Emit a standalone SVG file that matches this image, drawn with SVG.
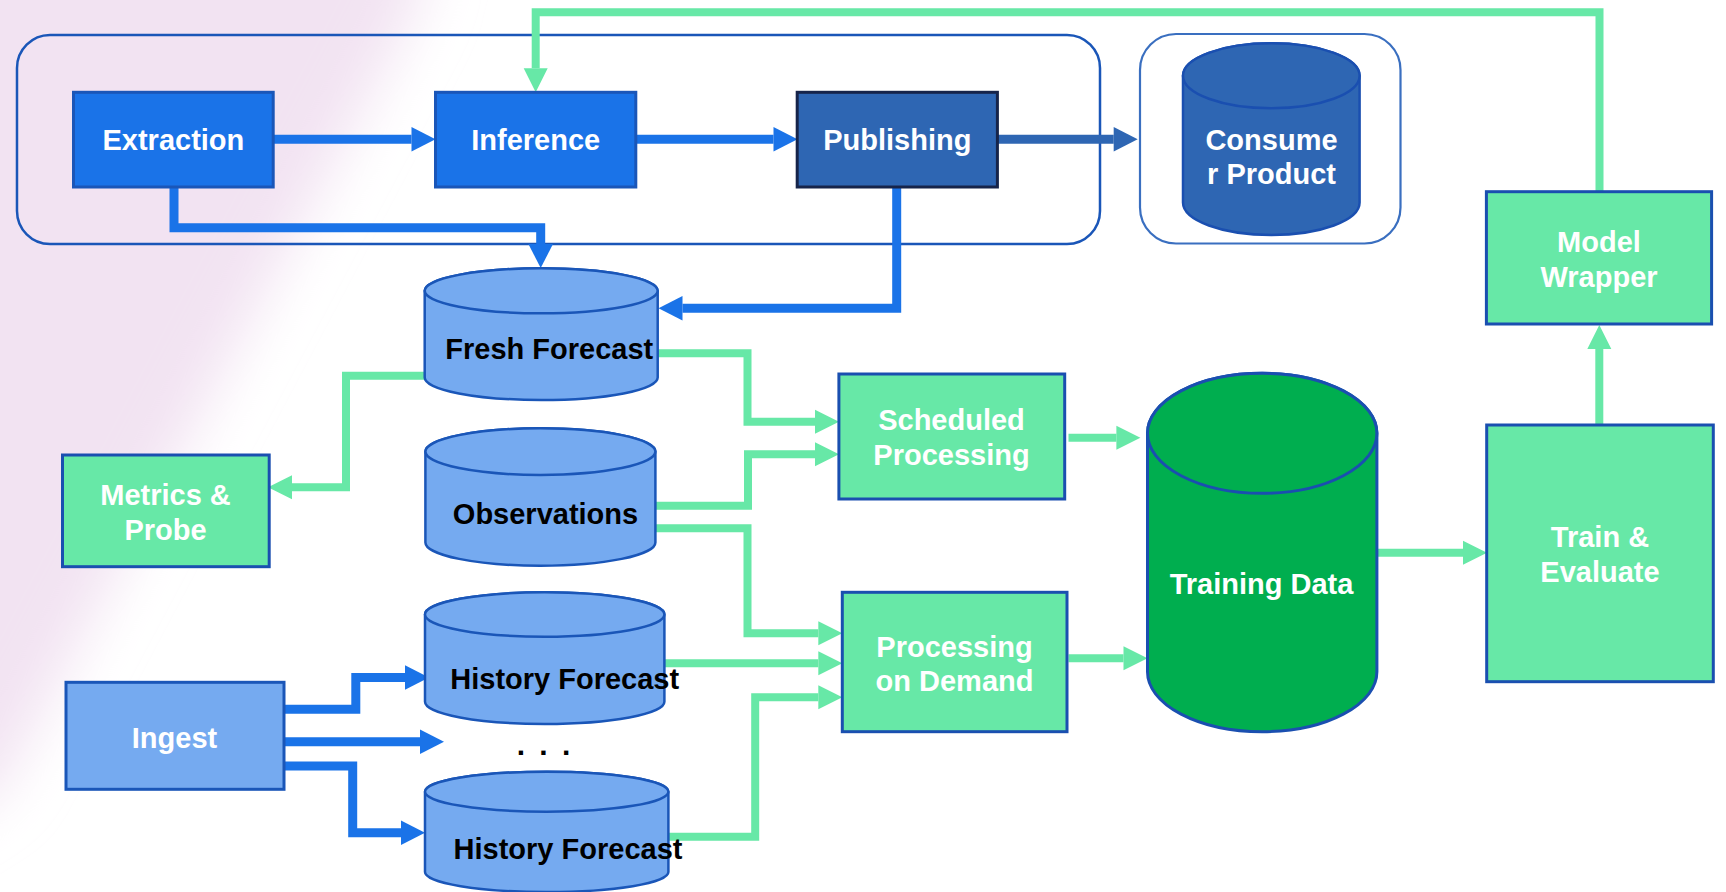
<svg xmlns="http://www.w3.org/2000/svg" width="1726" height="892" viewBox="0 0 1726 892">
<defs>
<filter id="blur" x="-50%" y="-50%" width="200%" height="200%"><feGaussianBlur stdDeviation="28"/></filter>
<marker id="hb" markerUnits="userSpaceOnUse" markerWidth="26" markerHeight="26" viewBox="0 -13 25 26" refX="0" refY="0" orient="auto"><path d="M0,-12.3 L24,0 L0,12.3 Z" fill="#1a73e8"/></marker>
<marker id="hd" markerUnits="userSpaceOnUse" markerWidth="26" markerHeight="26" viewBox="0 -13 25 26" refX="0" refY="0" orient="auto"><path d="M0,-12.3 L24,0 L0,12.3 Z" fill="#2e66b3"/></marker>
<marker id="hg" markerUnits="userSpaceOnUse" markerWidth="26" markerHeight="26" viewBox="0 -13 25 26" refX="0" refY="0" orient="auto"><path d="M0,-12 L24,0 L0,12 Z" fill="#67e8a7"/></marker>
</defs>
<style>
.t{font-family:"Liberation Sans",Arial,sans-serif;font-weight:bold;font-size:29px;text-anchor:middle}
.w{fill:#ffffff}
.k{fill:#000000}
.box{stroke-width:3}
.blue{fill:#1a73e8;stroke:#1a56b8}
.pub{fill:#2e66b3;stroke:#16244a}
.grn{fill:#67e8a7;stroke:#1a4fb0}
.lb{fill:#75aaf0;stroke:#1a56b8;stroke-width:2.5}
.cb{fill:none;stroke:#1a56b8;stroke-width:2.5}
.cb2{fill:none;stroke:#3a6fc0;stroke-width:2.2}
.cb line{}
.lnb{fill:none;stroke:#1a73e8;stroke-width:9;stroke-linejoin:miter}
.lnd{fill:none;stroke:#2e66b3;stroke-width:9}
.lng{fill:none;stroke:#67e8a7;stroke-width:8;stroke-linejoin:miter}
</style>
<rect width="1726" height="892" fill="#ffffff"/>
<polygon points="-80,-80 430,-80 420,0 0,790 -80,840" fill="#f2e3f2" filter="url(#blur)"/>

<g id="container-pipeline"><rect class="cb" x="17" y="35" width="1083" height="209" rx="33"/></g>
<g id="container-consumer"><rect class="cb2" x="1140" y="34" width="260.5" height="209.5" rx="36"/></g>

<g id="connectors">
<path class="lnb" d="M273,139.3 H411.5" marker-end="url(#hb)"/>
<path class="lnb" d="M635.8,139.3 H773.5" marker-end="url(#hb)"/>
<path class="lnd" d="M997.4,139.3 H1113.7" marker-end="url(#hd)"/>
<path class="lnb" d="M174,187 V227.7 H540.7 V244" marker-end="url(#hb)"/>
<path class="lnb" d="M896.7,187 V308.3 H682.5" marker-end="url(#hb)"/>
<path class="lnb" d="M282,709.3 H355.8 V677.5 H405" marker-end="url(#hb)"/>
<path class="lnb" d="M282,741.7 H420" marker-end="url(#hb)"/>
<path class="lnb" d="M282,766 H352.7 V832.7 H401" marker-end="url(#hb)"/>

<path class="lng" d="M1599.5,191.7 V12.3 H535.7 V68.3" marker-end="url(#hg)"/>
<path class="lng" d="M424.7,375.7 H346 V487.3 H292" marker-end="url(#hg)"/>
<path class="lng" d="M657.6,353.3 H747.5 V421.7 H815" marker-end="url(#hg)"/>
<path class="lng" d="M655.4,505.7 H748 V454.3 H815" marker-end="url(#hg)"/>
<path class="lng" d="M655.4,528.3 H747.5 V633.3 H818.3" marker-end="url(#hg)"/>
<path class="lng" d="M664.3,663.3 H818.3" marker-end="url(#hg)"/>
<path class="lng" d="M668.3,836.7 H755.2 V697.3 H818.3" marker-end="url(#hg)"/>
<path class="lng" d="M1068.5,437.7 H1116.4" marker-end="url(#hg)"/>
<path class="lng" d="M1068.5,658.3 H1123.5" marker-end="url(#hg)"/>
<path class="lng" d="M1377,552.7 H1463" marker-end="url(#hg)"/>
<path class="lng" d="M1599.3,425 V349" marker-end="url(#hg)"/>
</g>

<g id="extraction"><rect class="box blue" x="73.5" y="92.3" width="199.7" height="94.7"/><text class="t w" x="173.4" y="149.7">Extraction</text></g>
<g id="inference"><rect class="box blue" x="435.5" y="92.3" width="200.3" height="94.7"/><text class="t w" x="535.7" y="149.7">Inference</text></g>
<g id="publishing"><rect class="box pub" x="797.2" y="92.3" width="200.2" height="94.7"/><text class="t w" x="897.3" y="149.7">Publishing</text></g>

<g id="consumer-product">
<path d="M1183,75.8 V202.5 A88.3,32.5 0 0 0 1359.6,202.5 V75.8 A88.3,32.5 0 0 0 1183,75.8 Z" fill="#2e66b3" stroke="#1a4fb0" stroke-width="2.5"/>
<ellipse cx="1271.3" cy="75.8" rx="88.3" ry="32.5" fill="#2e66b3" stroke="#1a4fb0" stroke-width="2.5"/>
<text class="t w" x="1271.5" y="149.6">Consume</text>
<text class="t w" x="1271.5" y="183.7">r Product</text>
</g>

<g id="model-wrapper"><rect class="box grn" x="1486.4" y="191.7" width="225.2" height="132.3"/><text class="t w" x="1599" y="252.4">Model</text><text class="t w" x="1599" y="287.4">Wrapper</text></g>

<g id="fresh-forecast">
<path class="lb" d="M424.7,290.8 V377.5 A116.5,22.5 0 0 0 657.7,377.5 V290.8 A116.5,22.5 0 0 0 424.7,290.8 Z"/>
<ellipse class="lb" cx="541.2" cy="290.8" rx="116.5" ry="22.5"/>
<text class="t k" x="549.3" y="358.7">Fresh Forecast</text>
</g>

<g id="observations">
<path class="lb" d="M425.4,451.6 V542.4 A115,23.3 0 0 0 655.4,542.4 V451.6 A115,23.3 0 0 0 425.4,451.6 Z"/>
<ellipse class="lb" cx="540.4" cy="451.6" rx="115" ry="23.3"/>
<text class="t k" x="545.5" y="524">Observations</text>
</g>

<g id="history-forecast-1">
<path class="lb" d="M425,614.5 V701.8 A119.7,22.2 0 0 0 664.4,701.8 V614.5 A119.7,22.2 0 0 0 425,614.5 Z"/>
<ellipse class="lb" cx="544.7" cy="614.5" rx="119.7" ry="22.2"/>
<text class="t k" x="564.7" y="688.7">History Forecast</text>
</g>

<g id="history-forecast-2">
<path class="lb" d="M425,791.7 V872 A121.7,20 0 0 0 668.4,872 V791.7 A121.7,20 0 0 0 425,791.7 Z"/>
<ellipse class="lb" cx="546.7" cy="791.7" rx="121.7" ry="20"/>
<text class="t k" x="568" y="859.2">History Forecast</text>
</g>

<g id="ellipsis"><text class="t k" x="545" y="755" style="font-size:30px;letter-spacing:3px">. . .</text></g>

<g id="metrics-probe"><rect class="box grn" x="62.5" y="455" width="206.7" height="111.7"/><text class="t w" x="165.5" y="505">Metrics &amp;</text><text class="t w" x="165.5" y="540.4">Probe</text></g>

<g id="ingest"><rect class="box" x="66" y="682.3" width="218" height="107" fill="#75aaf0" stroke="#1a56b8"/><text class="t w" x="174.5" y="747.7">Ingest</text></g>

<g id="scheduled-processing"><rect class="box grn" x="838.9" y="374" width="225.8" height="125"/><text class="t w" x="951.5" y="430.4">Scheduled</text><text class="t w" x="951.5" y="465.4">Processing</text></g>

<g id="processing-on-demand"><rect class="box grn" x="842.3" y="592.3" width="224.7" height="139.4"/><text class="t w" x="954.5" y="657">Processing</text><text class="t w" x="954.5" y="691">on Demand</text></g>

<g id="training-data">
<path d="M1147.5,433.3 V671.7 A114.7,60 0 0 0 1376.9,671.7 V433.3 A114.7,60 0 0 0 1147.5,433.3 Z" fill="#00ae4f" stroke="#1a4fb0" stroke-width="3"/>
<ellipse cx="1262.2" cy="433.3" rx="114.7" ry="60" fill="#00ae4f" stroke="#1a4fb0" stroke-width="3"/>
<text class="t w" x="1261.5" y="594">Training Data</text>
</g>

<g id="train-evaluate"><rect class="box grn" x="1486.7" y="425" width="226.6" height="256.7"/><text class="t w" x="1600" y="547">Train &amp;</text><text class="t w" x="1600" y="582">Evaluate</text></g>
</svg>
